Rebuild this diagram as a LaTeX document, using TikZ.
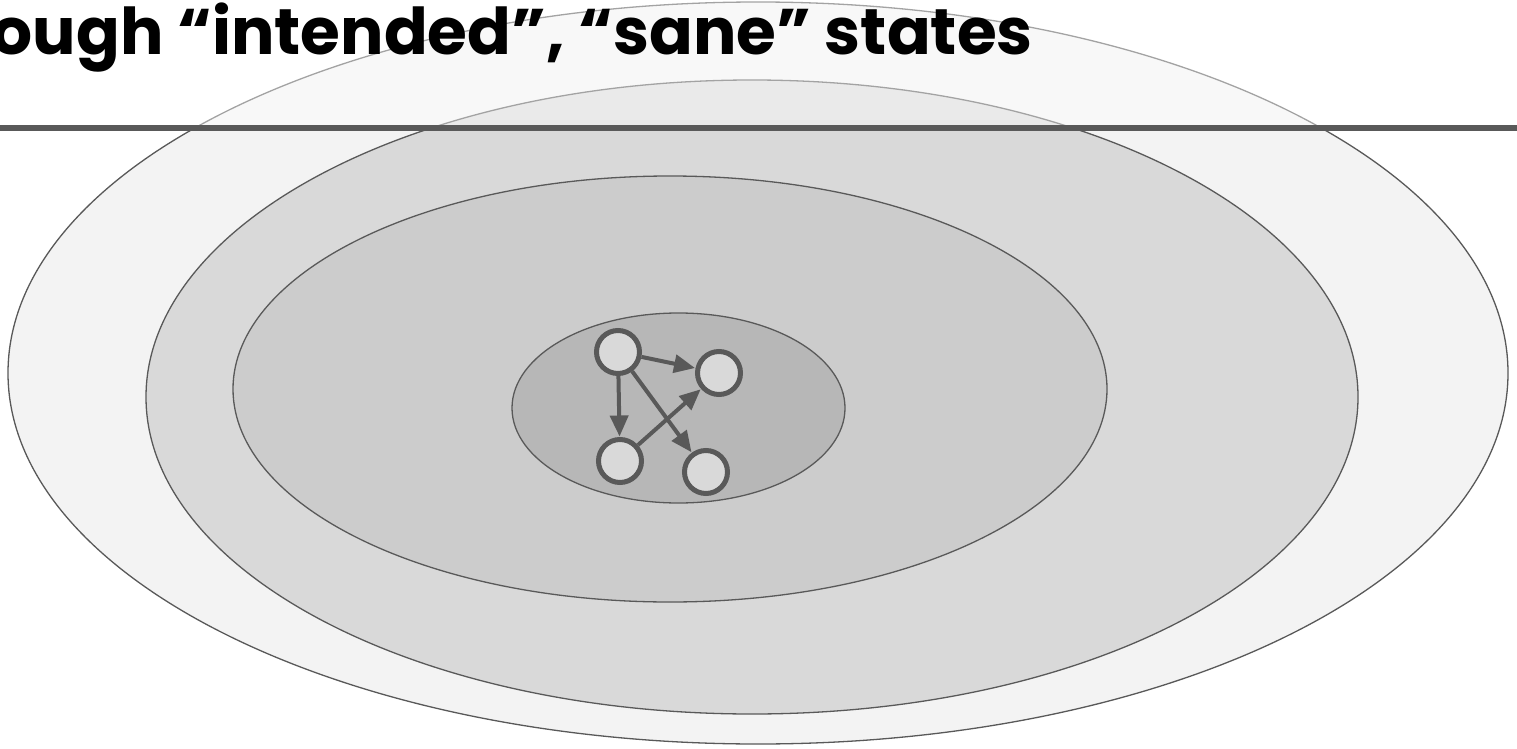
\documentclass[tikz,border=0pt]{standalone}
\usepackage{fontspec}
\setmainfont{Poppins}
\usetikzlibrary{arrows.meta}
\definecolor{edge}{HTML}{595959}
\definecolor{ringA}{HTML}{F3F3F3}
\definecolor{ringB}{HTML}{D9D9D9}
\definecolor{ringC}{HTML}{CCCCCC}
\definecolor{ringD}{HTML}{B7B7B7}
\tikzset{
  ring/.style={draw=edge, line width=1.3pt},
  state/.style={circle, draw=edge, fill=ringB, line width=5pt, inner sep=0pt, minimum size=43pt},
  link/.style={draw=edge, line width=4pt, -{Triangle[length=21pt,width=18pt]}, shorten >=0.5pt},
  title/.style={font=\fontsize{64.5}{77}\selectfont\bfseries, text=black, inner sep=0pt}
}
\begin{document}
\begin{tikzpicture}[x=1pt,y=-1pt]
  \useasboundingbox (0,0) rectangle (1517,749);
  \clip (0,0) rectangle (1517,749);
  % nested regions of states
  \draw[ring, fill=ringA] (758,373) ellipse [x radius=750pt, y radius=371pt];
  \draw[ring, fill=ringB] (752,397) ellipse [x radius=606pt, y radius=317pt];
  \draw[ring, fill=ringC] (670,389) ellipse [x radius=437pt, y radius=213pt];
  \draw[ring, fill=ringD] (678.5,408) ellipse [x radius=166.5pt, y radius=95pt];
  % small state graph
  \node[state] (a) at (618,352) {};
  \node[state] (b) at (719,373) {};
  \node[state] (c) at (620,461) {};
  \node[state] (d) at (706,472) {};
  \draw[link] (a) -- (b);
  \draw[link] (a) -- (c);
  \draw[link] (a) -- (d);
  \draw[link] (c) -- (b);
  % faded header band
  \fill[white, opacity=0.45] (0,0) rectangle (1517,125);
  \coordinate (rl) at (0,127.8);
  \coordinate (rr) at (1517,127.8);
  \draw[edge, line width=5.5pt] (rl) -- (rr);
  \node[title, anchor=base east] (head) at (1033,55) {ough “intended”, “sane” states};
\end{tikzpicture}
\end{document}
